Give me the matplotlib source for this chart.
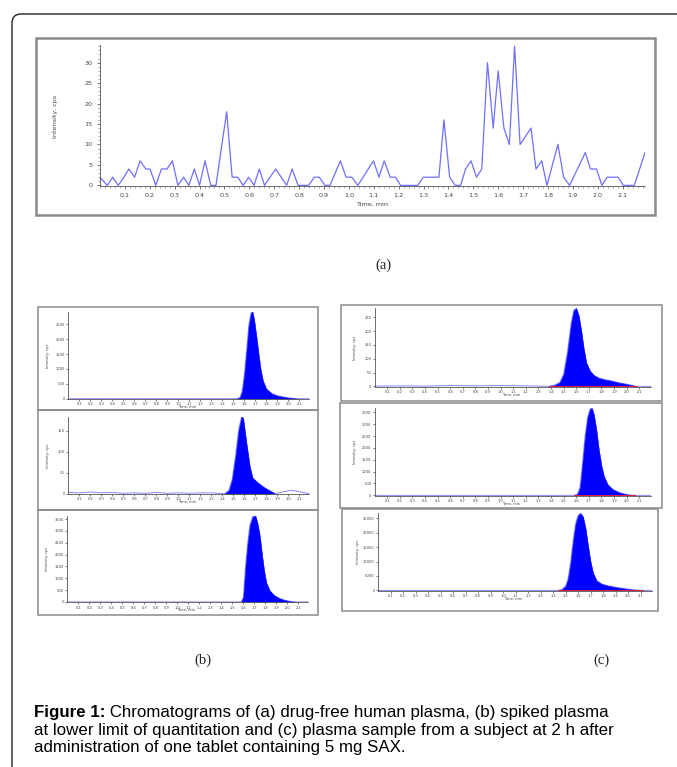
import matplotlib
matplotlib.use("Agg")
import numpy as np
import matplotlib.pyplot as plt
from matplotlib.patches import Rectangle, FancyBboxPatch
from matplotlib.ticker import MultipleLocator

# ---------------- data ----------------
# (a) drug-free plasma: scan vertices (time, min / intensity, cps)
a_time = [0.0, 0.029, 0.051, 0.073, 0.096, 0.116, 0.139, 0.161, 0.184, 0.201,
          0.224, 0.247, 0.269, 0.291, 0.313, 0.336, 0.357, 0.379, 0.400, 0.422,
          0.445, 0.466, 0.509, 0.531, 0.554, 0.575, 0.597, 0.619, 0.640, 0.661,
          0.706, 0.750, 0.772, 0.796, 0.838, 0.861, 0.881, 0.904, 0.924, 0.966,
          0.989, 1.012, 1.036, 1.099, 1.121, 1.142, 1.166, 1.187, 1.208, 1.277,
          1.299, 1.362, 1.382, 1.405, 1.427, 1.449, 1.469, 1.491, 1.513, 1.534,
          1.557, 1.580, 1.600, 1.623, 1.645, 1.666, 1.688, 1.732, 1.752, 1.775,
          1.796, 1.840, 1.863, 1.887, 1.950, 1.971, 1.995, 2.017, 2.038, 2.082,
          2.103, 2.147, 2.190]
a_int = [2, 0, 2, 0, 2, 4, 2, 6, 4, 4,
         0, 4, 4, 6, 0, 2, 0, 4, 0, 6,
         0, 0, 18, 2, 2, 0, 2, 0, 4, 0,
         4, 0, 4, 0, 0, 2, 2, 0, 0, 6,
         2, 2, 0, 6, 2, 6, 2, 2, 0, 0,
         2, 2, 16, 2, 0, 0, 4, 6, 2, 4,
         30, 14, 28, 14, 10, 34, 10, 14, 4, 6,
         0, 10, 2, 0, 8, 4, 4, 0, 2, 2,
         0, 0, 8]

# (b) spiked plasma at LLOQ - three traces
b1_peak_t = [1.53, 1.56, 1.58, 1.60, 1.62, 1.64, 1.66, 1.675, 1.69, 1.71,
             1.73, 1.75, 1.77, 1.80, 1.85, 1.90, 1.95, 2.00, 2.05, 2.08]
b1_peak_v = [0, 40, 250, 800, 1600, 2450, 2880, 2930, 2650, 2100,
             1500, 950, 600, 330, 170, 100, 60, 30, 10, 0]
b2_peak_t = [1.42, 1.46, 1.49, 1.52, 1.55, 1.575, 1.59, 1.62, 1.65, 1.675,
             1.72, 1.78, 1.84, 1.88]
b2_peak_v = [0, 8, 35, 90, 155, 184, 180, 120, 65, 38, 27, 15, 6, 0]
b3_peak_t = [1.58, 1.60, 1.62, 1.64, 1.66, 1.685, 1.71, 1.73, 1.75, 1.77,
             1.79, 1.81, 1.84, 1.88, 1.93, 1.98, 2.03, 2.08]
b3_peak_v = [0, 200, 1500, 2500, 3250, 3600, 3640, 3300, 2800, 2000,
             1300, 800, 480, 280, 150, 70, 25, 0]

# (c) subject plasma sample at 2 h - three traces
c1_peak_t = [1.38, 1.43, 1.47, 1.50, 1.53, 1.56, 1.58, 1.60, 1.62, 1.64,
             1.66, 1.68, 1.71, 1.74, 1.78, 1.83, 1.88, 1.93, 1.98, 2.03, 2.08]
c1_peak_v = [0, 5, 15, 45, 125, 230, 275, 282, 255, 200,
             135, 85, 55, 40, 30, 24, 20, 14, 10, 5, 0]
c2_peak_t = [1.58, 1.61, 1.63, 1.65, 1.67, 1.69, 1.71, 1.725, 1.74, 1.76,
             1.78, 1.80, 1.82, 1.85, 1.89, 1.94, 1.99, 2.04, 2.07]
c2_peak_v = [0, 60, 350, 1400, 2500, 3300, 3650, 3670, 3400, 2750,
             1900, 1250, 800, 450, 250, 120, 50, 10, 0]
c3_peak_t = [1.44, 1.47, 1.50, 1.52, 1.54, 1.56, 1.58, 1.60, 1.62, 1.64,
             1.66, 1.68, 1.70, 1.72, 1.75, 1.79, 1.84, 1.90, 1.96, 2.02,
             2.08, 2.12]
c3_peak_v = [0, 300, 1500, 4000, 9500, 17000, 23000, 26000, 26700, 25500,
             21500, 15500, 10000, 6000, 3300, 2200, 1600, 1100, 700, 350,
             100, 0]

# baseline noise of the (b) middle trace and (c) top trace
b2_pre_t = [0.0, 0.1, 0.2, 0.3, 0.4, 0.5, 0.6, 0.7, 0.8, 0.9, 1.0, 1.1, 1.2, 1.3]
b2_pre_v = [3, 2, 4, 2, 3, 1, 2, 1, 3, 1, 2, 1, 2, 2]
b2_post_t = [1.93, 1.98, 2.03, 2.08, 2.13, 2.19]
b2_post_v = [3, 6, 8, 6, 3, 0]
c1_pre_t = [0.0, 0.2, 0.4, 0.6, 0.8, 1.0, 1.2]
c1_pre_v = [1, 2, 1, 3, 2, 3, 2]

x_ticks = [0.1, 0.2, 0.3, 0.4, 0.5, 0.6, 0.7, 0.8, 0.9, 1.0, 1.1,
           1.2, 1.3, 1.4, 1.5, 1.6, 1.7, 1.8, 1.9, 2.0, 2.1]
a_yticks = [0, 5, 10, 15, 20, 25, 30]
b1_yticks = [0, 500, 1000, 1500, 2000, 2500]
b2_yticks = [0, 50, 100, 150]
b3_yticks = [0, 500, 1000, 1500, 2000, 2500, 3000, 3500]
c1_yticks = [0, 50, 100, 150, 200, 250]
c2_yticks = [0, 500, 1000, 1500, 2000, 2500, 3000, 3500]
c3_yticks = [0, 5000, 10000, 15000, 20000, 25000]

caption_bold = "Figure 1:"
caption_1 = " Chromatograms of (a) drug-free human plasma, (b) spiked plasma"
caption_2 = "at lower limit of quantitation and (c) plasma sample from a subject at 2 h after"
caption_3 = "administration of one tablet containing 5 mg SAX."

# ---------------- layout ----------------
W, H = 677, 767
fig = plt.figure(figsize=(W / 100, H / 100), dpi=100)
fig.patch.set_facecolor("white")


def box(l, t, r, b):
    return [l / W, 1 - b / H, (r - l) / W, (b - t) / H]


# overlay in pixel coordinates for frames and free text
ov = fig.add_axes([0, 0, 1, 1], zorder=0)
ov.set_xlim(0, W)
ov.set_ylim(H, 0)
ov.axis("off")

ov.add_patch(FancyBboxPatch((12, 14), 720, 800,
                            boxstyle="round,pad=0,rounding_size=9",
                            fc="white", ec="#222222", lw=1.0))

frames = [(36, 38, 655, 215),
          (38, 307, 318, 410), (38, 410, 318, 510), (38, 510, 318, 615),
          (341, 305, 662, 401), (340, 403, 662, 508), (342, 509, 658, 611)]
for l, t, r, b in frames:
    lw = 1.8 if t == 38 else 1.1
    ov.add_patch(Rectangle((l, t), r - l, b - t, fc="none", ec="#8a8a8a", lw=lw))

TRACE = "#8585ff"


def style_axes(ax, fs, ticklen):
    ax.set_facecolor("none")
    for s in ("top", "right"):
        ax.spines[s].set_visible(False)
    for s in ("left", "bottom"):
        ax.spines[s].set_color("#555555")
        ax.spines[s].set_linewidth(0.6)
    ax.tick_params(axis="both", labelsize=fs, colors="#444444", length=ticklen,
                   width=0.5, pad=1.5)
    ax.tick_params(which="minor", length=ticklen * 0.5, width=0.4, colors="#666666")


# ---- panel (a) ----
axA = fig.add_axes(box(100, 45, 645, 186), zorder=2)
axA.plot(a_time, a_int, color="#6f6fff", lw=0.9)
axA.set_xlim(0, 2.19)
axA.set_ylim(-0.15, 34.3)
axA.set_xticks(x_ticks)
axA.set_xticklabels([f"{v:.1f}" for v in x_ticks])
axA.set_yticks(a_yticks)
axA.xaxis.set_minor_locator(MultipleLocator(0.02))
axA.yaxis.set_minor_locator(MultipleLocator(1))
style_axes(axA, 4.6, 2.2)
axA.tick_params(axis="both", pad=3)
ov.text(55, 116, "Intensity, cps", rotation=90, fontsize=4.6, color="#444444",
        ha="center", va="center")
ov.text(372, 204, "Time, min", fontsize=4.6, color="#444444", ha="center", va="center")


def small_panel(px, peak_t, peak_v, yticks, ytop, pre_t=None, pre_v=None,
                post_t=None, post_v=None):
    l, t, r, b = px
    ax = fig.add_axes(box(l, t, r, b), zorder=2)
    pre_t = pre_t if pre_t is not None else [0.0]
    pre_v = pre_v if pre_v is not None else [0]
    post_t = post_t if post_t is not None else [2.19]
    post_v = post_v if post_v is not None else [0]
    trace_t = list(pre_t) + list(peak_t) + list(post_t)
    trace_v = list(pre_v) + list(peak_v) + list(post_v)
    ax.plot(trace_t, trace_v, color=TRACE, lw=0.7, zorder=1)
    ax.fill_between(peak_t, peak_v, 0, color="#0000ff", lw=0.3, zorder=2)
    ax.plot([peak_t[0], peak_t[-1]], [0, 0], color="#ff2020", lw=0.6, zorder=3)
    ax.set_xlim(0, 2.19)
    ax.set_ylim(-ytop * 0.004, ytop)
    ax.set_xticks(x_ticks)
    ax.set_xticklabels([f"{v:.1f}" for v in x_ticks])
    ax.set_yticks(yticks)
    style_axes(ax, 2.6, 1.2)
    ax.tick_params(pad=1.2)
    ov.text(l - 20, (t + b) / 2, "Intensity, cps", rotation=90, fontsize=2.6,
            color="#444444", ha="center", va="center")
    ov.text((l + r) / 2 - 2, b + 8, "Time, min", fontsize=2.6, color="#444444",
            ha="center", va="center")
    return ax


small_panel((68.3, 311.7, 309.2, 399), b1_peak_t, b1_peak_v, b1_yticks, 2930)
small_panel((68.3, 416.7, 309.2, 494), b2_peak_t, b2_peak_v, b2_yticks, 184,
            b2_pre_t, b2_pre_v, b2_post_t, b2_post_v)
small_panel((67.3, 515.7, 308.2, 602.3), b3_peak_t, b3_peak_v, b3_yticks, 3640)
small_panel((374.7, 308.3, 650.6, 386.7), c1_peak_t, c1_peak_v, c1_yticks, 282,
            c1_pre_t, c1_pre_v)
small_panel((374.7, 408.3, 650.6, 495.7), c2_peak_t, c2_peak_v, c2_yticks, 3670)
small_panel((378.0, 513.3, 651.8, 590.7), c3_peak_t, c3_peak_v, c3_yticks, 26700)

# panel letters
for x, y, s in [(383, 265, "(a)"), (203, 660, "(b)"), (601, 660, "(c)")]:
    ov.text(x, y, s, fontsize=10.5, family="Liberation Serif", color="#222222",
            ha="center", va="center")

# caption
cap_fs = 12.2
base_y = [717, 734.5, 752]
tb = ov.text(34, base_y[0], caption_bold, fontsize=cap_fs, family="Liberation Sans",
             weight="bold", color="black", va="baseline", ha="left")
fig.canvas.draw()
bb = tb.get_window_extent(renderer=fig.canvas.get_renderer())
x_after = bb.x1 / fig.dpi * 100
ov.text(x_after, base_y[0], caption_1, fontsize=cap_fs, family="Liberation Sans",
        color="black", va="baseline", ha="left")
ov.text(34, base_y[1], caption_2, fontsize=cap_fs, family="Liberation Sans",
        color="black", va="baseline", ha="left")
ov.text(34, base_y[2], caption_3, fontsize=cap_fs, family="Liberation Sans",
        color="black", va="baseline", ha="left")

fig.savefig("out.png", dpi=100, facecolor="white")
